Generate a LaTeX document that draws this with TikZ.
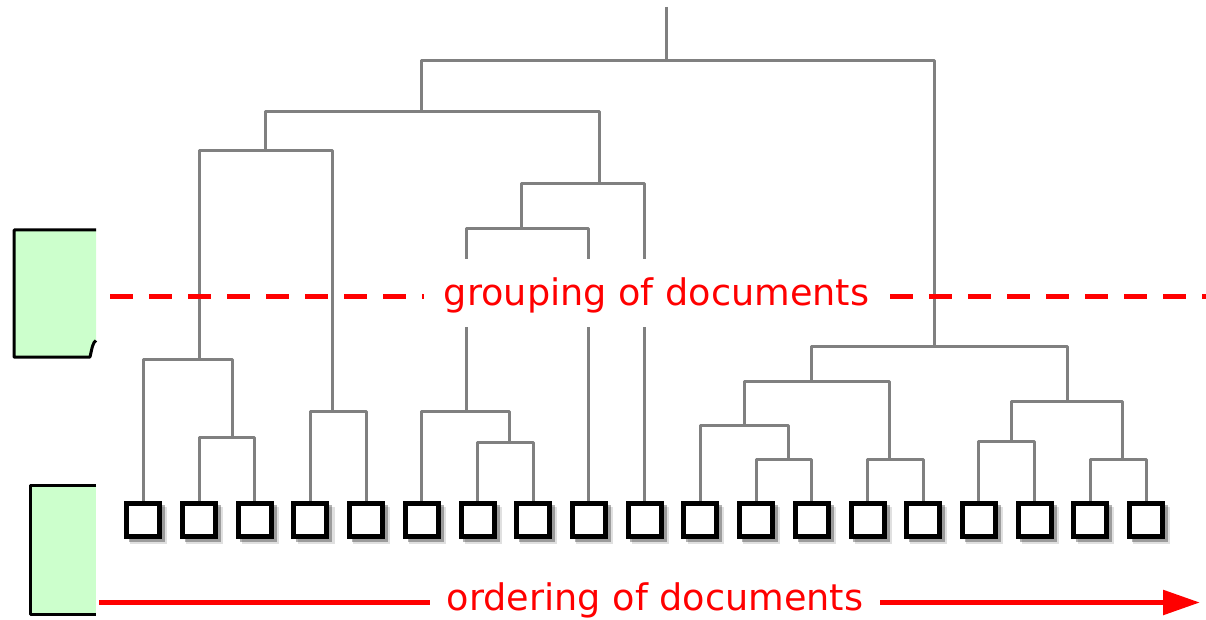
\documentclass[tikz,border=0pt]{standalone}
\usepackage{fontspec}
\setmainfont{DejaVu Sans}
\usetikzlibrary{arrows.meta,shadows}
\definecolor{treegray}{RGB}{128,128,128}
\definecolor{docgreen}{RGB}{204,255,204}
\definecolor{lblred}{RGB}{255,0,0}
\begin{document}
\begin{tikzpicture}[x=1pt,y=-1pt,
  leafbox/.style={draw=black,line width=5pt,fill=white,minimum size=33pt,inner sep=0pt,
    general shadow={shadow xshift=5pt,shadow yshift=-5pt,shadow scale=1.12,fill=black,opacity=0.12},
    general shadow={shadow xshift=3.5pt,shadow yshift=-3.5pt,shadow scale=1.1,fill=black,opacity=0.3}},
  branch/.style={draw=treegray,line width=3pt,line join=round},
  docshape/.style={draw=black,line width=3pt,line join=round},
  redline/.style={draw=lblred,line width=5.5pt},
  lbl/.style={text=lblred,fill=white,inner sep=0pt,font=\fontsize{36.6}{44}\selectfont,anchor=base}
]
\useasboundingbox (0,0) rectangle (1206,620);

% green document shapes (cut off at the left)
\fill[docgreen] (14,230) -- (96,230) -- (96,340.5) .. controls (93,342) and (92,348) .. (90,357) -- (14,357) -- cycle;
\draw[docshape] (96,230) -- (14,230) -- (14,357) -- (90,357) .. controls (92,348) and (93,342) .. (96,340.5);
\fill[docgreen] (30.7,485.7) rectangle (96,614);
\draw[docshape] (96,485.7) -- (30.7,485.7) -- (30.7,614) -- (96,614);

% leaves
\foreach \i in {0,...,18}{
  \pgfmathsetmacro{\xx}{143.3+55.71*\i}
  \node[leafbox] (l\i) at (\xx,519.5) {};
}

% internal merge points
\coordinate (top) at (666,7);
\coordinate (R) at (666,61);
\coordinate (A) at (421.5,111.7);
\coordinate (B) at (934,346.7);
\coordinate (C) at (265,151);
\coordinate (D) at (599.4,183.3);
\coordinate (E) at (199.2,359.3);
\coordinate (F) at (332.3,411);
\coordinate (G) at (232.3,437.3);
\coordinate (H) at (521.7,228.7);
\coordinate (I) at (466,411);
\coordinate (J) at (509.7,442.7);
\coordinate (K) at (811.3,381.7);
\coordinate (L) at (1067,401);
\coordinate (M) at (744.5,425);
\coordinate (N) at (889.2,459.3);
\coordinate (O) at (788.8,459.3);
\coordinate (P) at (1011.8,441.7);
\coordinate (Q) at (1122.5,459.3);

\draw[branch] (top) -- (R);
\draw[branch] (R) -| (A);
\draw[branch] (R) -| (B);
\draw[branch] (A) -| (C);
\draw[branch] (A) -| (D);
\draw[branch] (C) -| (E);
\draw[branch] (C) -| (F);
\draw[branch] (E) -| (l0.north);
\draw[branch] (E) -| (G);
\draw[branch] (G) -| (l1.north);
\draw[branch] (G) -| (l2.north);
\draw[branch] (F) -| (l3.north);
\draw[branch] (F) -| (l4.north);
\draw[branch] (D) -| (H);
\draw[branch] (D) -| (l9.north);
\draw[branch] (H) -| (I);
\draw[branch] (H) -| (l8.north);
\draw[branch] (I) -| (l5.north);
\draw[branch] (I) -| (J);
\draw[branch] (J) -| (l6.north);
\draw[branch] (J) -| (l7.north);
\draw[branch] (B) -| (K);
\draw[branch] (B) -| (L);
\draw[branch] (K) -| (M);
\draw[branch] (K) -| (N);
\draw[branch] (M) -| (l10.north);
\draw[branch] (M) -| (O);
\draw[branch] (O) -| (l11.north);
\draw[branch] (O) -| (l12.north);
\draw[branch] (N) -| (l13.north);
\draw[branch] (N) -| (l14.north);
\draw[branch] (L) -| (P);
\draw[branch] (L) -| (Q);
\draw[branch] (P) -| (l15.north);
\draw[branch] (P) -| (l16.north);
\draw[branch] (Q) -| (l17.north);
\draw[branch] (Q) -| (l18.north);

% grouping cut line
\coordinate (cutL) at (110,296);
\coordinate (cutR) at (1206,296);
\draw[redline,line width=5pt,dash pattern=on 23pt off 16pt] (cutL) -- (cutR);
\node[lbl,minimum width=465pt,text height=46pt,text depth=22pt] (grp) at (656.5,305) {grouping of documents};

% ordering arrow
\coordinate (ordL) at (99,602.5);
\coordinate (ordR) at (1200,602.5);
\draw[redline,-{Triangle[length=37pt,width=24pt]}] (ordL) -- (ordR);
\node[lbl,minimum width=450pt,text height=30pt,text depth=12pt] (ord) at (655,610) {ordering of documents};
\end{tikzpicture}
\end{document}
